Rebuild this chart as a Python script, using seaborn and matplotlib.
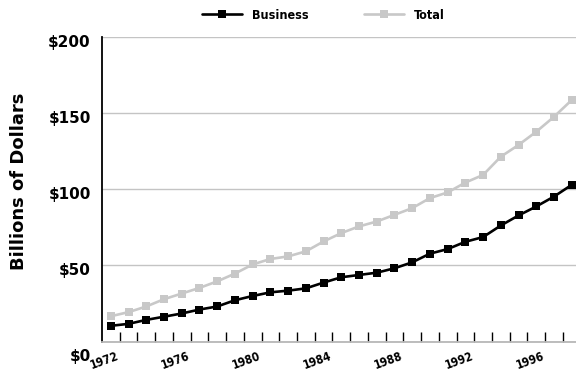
import matplotlib
matplotlib.use("Agg")
import matplotlib.pyplot as plt
import matplotlib.transforms as mtransforms
from matplotlib.ticker import FixedLocator, NullFormatter
from matplotlib import font_manager
import seaborn as sns
import pandas as pd

years = list(range(1972, 1999))
business = [10.3, 11.6, 14.2, 16.3, 18.4, 21.0, 23.0, 27.1, 29.9, 32.3, 33.4, 34.9, 38.7,
            42.2, 43.7, 45.2, 48.1, 52.0, 57.7, 60.7, 65.5, 68.6, 76.2, 82.8, 88.7, 95.2, 102.9]
total = [16.6, 19.3, 23.0, 27.8, 31.5, 35.2, 39.5, 44.6, 50.6, 54.2, 55.9, 59.2, 65.7,
         71.2, 75.6, 78.8, 83.2, 87.6, 94.2, 97.9, 104.4, 109.4, 121.4, 129.1, 137.8, 147.6, 158.6]
series_names = ["Business", "Total"]
year_labels = ["1972", "1976", "1980", "1984", "1988", "1992", "1996"]
y_ticks = [0, 50, 100, 150, 200]
y_labels = ["$0", "$50", "$100", "$150", "$200"]

pos = list(range(len(years)))
df = pd.DataFrame({
    "pos": pos * 2,
    "value": business + total,
    "series": [series_names[0]] * len(years) + [series_names[1]] * len(years),
})

sns.set_theme(style="white")
plt.rcParams.update({"text.color": "black", "axes.labelcolor": "black",
                     "xtick.color": "black", "ytick.color": "black"})

# pick a narrow bold face for the small labels if one is installed
names = {f.name for f in font_manager.fontManager.ttflist}
narrow_family = "DejaVu Sans"
for cand in ["Liberation Sans Narrow", "DejaVu Sans Condensed"]:
    if cand in names:
        narrow_family = cand
        break
narrow_fams = [narrow_family, "DejaVu Sans"]

fig = plt.figure(figsize=(5.76, 3.71), dpi=100)
ax = fig.add_axes([0.177, 0.0795, 0.823, 0.8208])

sns.lineplot(data=df, x="pos", y="value", hue="series", style="series",
             palette={"Business": "#000000", "Total": "#c8c8c8"},
             markers={"Business": "s", "Total": "s"}, dashes=False,
             markersize=5.6, markeredgewidth=0, linewidth=1.9, ax=ax, legend=False)

ax.set_ylim(0, 200)
ax.set_xlim(-0.5, 26.24)

# horizontal grid
ax.set_yticks(y_ticks)
ax.set_yticklabels(y_labels, fontsize=11, fontweight="bold", color="black")
ax.yaxis.grid(True, color="#c4c4c4", linewidth=1.0)
ax.set_axisbelow(True)
ax.tick_params(axis="y", length=0, pad=8)
for lab in ax.get_yticklabels():
    dy = -13 if lab.get_text() == "$0" else -4
    lab.set_transform(lab.get_transform() + mtransforms.ScaledTranslation(0, dy / fig.dpi, fig.dpi_scale_trans))

# x: labels every 4 years, small ticks between categories
ax.xaxis.set_major_locator(FixedLocator([0, 4, 8, 12, 16, 20, 24]))
ax.set_xticklabels(year_labels, rotation=20, fontsize=8.5, ha="center", color="black",
                   fontdict=dict(family=narrow_fams, weight="bold", stretch="condensed"))
ax.xaxis.set_minor_locator(FixedLocator([p + 0.5 for p in pos]))
ax.xaxis.set_minor_formatter(NullFormatter())
ax.tick_params(axis="x", which="major", length=0, pad=6)
ax.tick_params(axis="x", which="minor", direction="in", length=7, width=1.0,
               color="black", bottom=True)
for lab in ax.get_xticklabels():
    lab.set_transform(lab.get_transform() + mtransforms.ScaledTranslation(-6 / fig.dpi, 0, fig.dpi_scale_trans))

ax.set_xlabel("")
ax.set_ylabel("Billions of Dollars", fontsize=13, fontweight="bold", color="black")
ax.yaxis.set_label_coords(-0.156, 0.525)

for s in ["top", "right"]:
    ax.spines[s].set_visible(False)
ax.spines["left"].set_color("black")
ax.spines["left"].set_linewidth(1.3)
ax.spines["bottom"].set_color("#b8b8b8")
ax.spines["bottom"].set_linewidth(1.3)

handles = [plt.Line2D([], [], color="#000000", marker="s", markersize=5.6, markeredgewidth=0, linewidth=1.9),
           plt.Line2D([], [], color="#c8c8c8", marker="s", markersize=5.6, markeredgewidth=0, linewidth=1.9)]
leg = fig.legend(handles, series_names, loc="center", bbox_to_anchor=(0.561, 0.959), ncol=2,
                 frameon=False, handlelength=3.2, handletextpad=0.8, columnspacing=4.4,
                 prop=dict(family=narrow_fams, weight="bold", stretch="condensed", size=9))
for t in leg.get_texts():
    t.set_color("black")

fig.savefig("out.png", dpi=100)
